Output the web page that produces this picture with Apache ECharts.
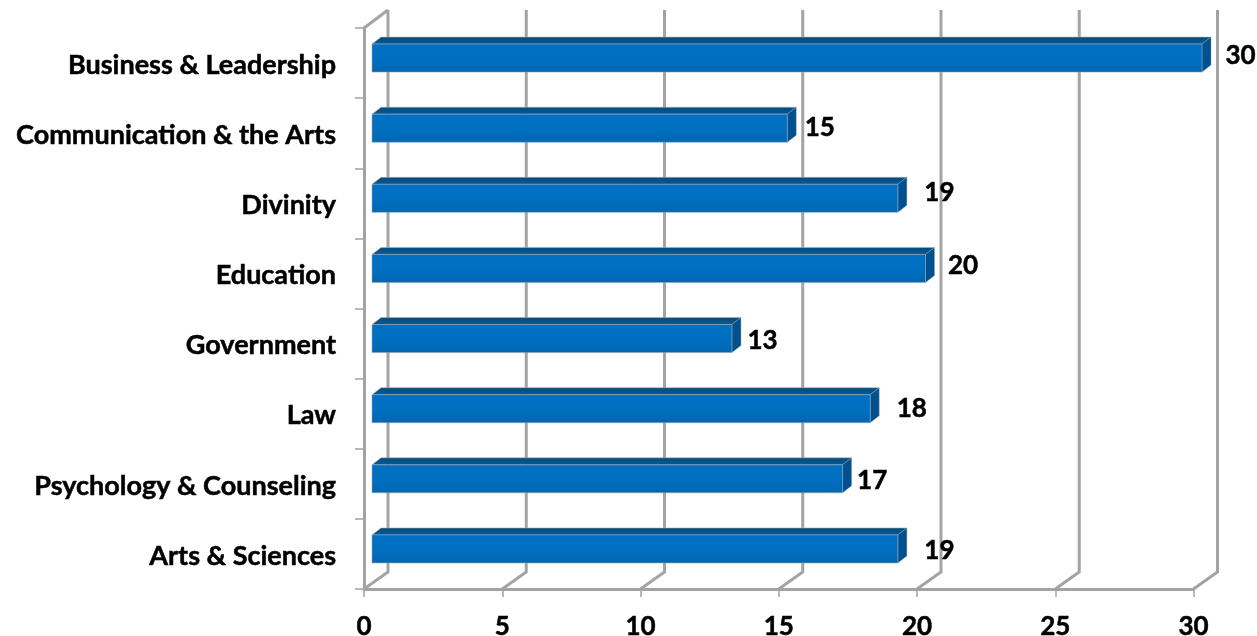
<!DOCTYPE html>
<html><head><meta charset="utf-8">
<style>html,body{margin:0;padding:0;background:#fff}#c{width:1257px;height:636px}</style>
<script src="https://cdn.jsdelivr.net/npm/echarts@6/dist/echarts.min.js"></script>
</head><body><div id="c"></div>
<script>
const categories = ['Business & Leadership','Communication & the Arts','Divinity','Education','Government','Law','Psychology & Counseling','Arts & Sciences'];
const values = [30,15,19,20,13,18,17,19];
const xTicks = [0,5,10,15,20,25,30];
// label placement nudges, [dx, dy] from the bar end
const labelNudge = [[32,-7],[26,-6],[35,-11],[31,-8],[24,-3],[35,-5],[23,-3],[35,-3]];

const GREY='#a3a3a3', FONT='Lato';
const chart = echarts.init(document.getElementById('c'));
function wall(params, api){
  const v = api.value(0), cs = params.coordSys;
  const x = api.coord([v,0])[0], top = cs.y, bot = cs.y+cs.height;
  const style = {stroke:GREY, lineWidth:3, fill:null};
  const kids = [{type:'polyline', shape:{points:[[x,bot],[x+24,bot-17],[x+24,top-18]]}, style}];
  if (v===0) kids.push({type:'polyline', shape:{points:[[x,top],[x+24,top-18]]}, style});
  return {type:'group', children:kids};
}
function bar(params, api){
  const v = api.value(0), i = api.value(1);
  const a = api.coord([0,i]), b = api.coord([v,i]);
  const x0=a[0]+8, x1=b[0]+8.5, y0=a[1]-19, y1=y0+28, dx=9, dy=7;
  const n = labelNudge[params.dataIndex];
  return {type:'group', children:[
    {type:'polygon', shape:{points:[[x0,y0],[x0+dx,y0-dy],[x1+dx,y0-dy],[x1,y0]]},
      style:{fill:new echarts.graphic.LinearGradient(0,0,0,1,[{offset:0,color:'#064a7a'},{offset:1,color:'#045a98'}]),stroke:'#a9b4bf',lineWidth:.6}},
    {type:'polygon', shape:{points:[[x1,y0],[x1+dx,y0-dy],[x1+dx,y1-dy],[x1,y1]]},
      style:{fill:'#03508f',stroke:'#7f9ab3',lineWidth:.4}},
    {type:'rect', shape:{x:x0,y:y0,width:x1-x0,height:y1-y0},
      style:{fill:new echarts.graphic.LinearGradient(0,0,0,1,[{offset:0,color:'#0070c4'},{offset:.55,color:'#006fc0'},{offset:1,color:'#0066b0'}]),stroke:'#8ea6bb',lineWidth:.6}},
    {type:'text', style:{x:b[0]+n[0], y:b[1]+n[1], text:String(v), fill:'#000', font:'bold 26px '+FONT, align:'left', verticalAlign:'middle', stroke:'#000', lineWidth:.5}}
  ]};
}
chart.setOption({
  animation:false,
  grid:{left:364,top:28,width:829.5,height:561,containLabel:false,outerBoundsMode:'none'},
  xAxis:{type:'value',min:0,max:30,interval:5,
    splitLine:{show:false},
    axisLine:{show:true,lineStyle:{color:GREY,width:3}},
    axisTick:{show:true,length:8,lineStyle:{color:GREY,width:1.5}},
    axisLabel:{color:'#000',fontFamily:FONT,fontWeight:'bold',fontSize:26,margin:25,textBorderColor:'#000',textBorderWidth:.5}},
  yAxis:{type:'category',inverse:true,data:categories,
    axisLine:{show:true,lineStyle:{color:GREY,width:3}},
    axisTick:{show:true,length:9,lineStyle:{color:GREY,width:1.5}},
    axisLabel:{color:'#000',fontFamily:FONT,fontWeight:'bold',fontSize:27,margin:28,interval:0,textBorderColor:'#000',textBorderWidth:.5,verticalAlign:'top',lineHeight:4}},
  series:[
    {type:'custom',silent:true,z:1,clip:false,renderItem:wall,data:xTicks.map(t=>[t,0]),encode:{x:0,y:1}},
    {type:'custom',silent:true,z:2,clip:false,renderItem:bar,data:values.map((v,i)=>[v,i]),encode:{x:0,y:1}}
  ]
});
</script></body></html>
